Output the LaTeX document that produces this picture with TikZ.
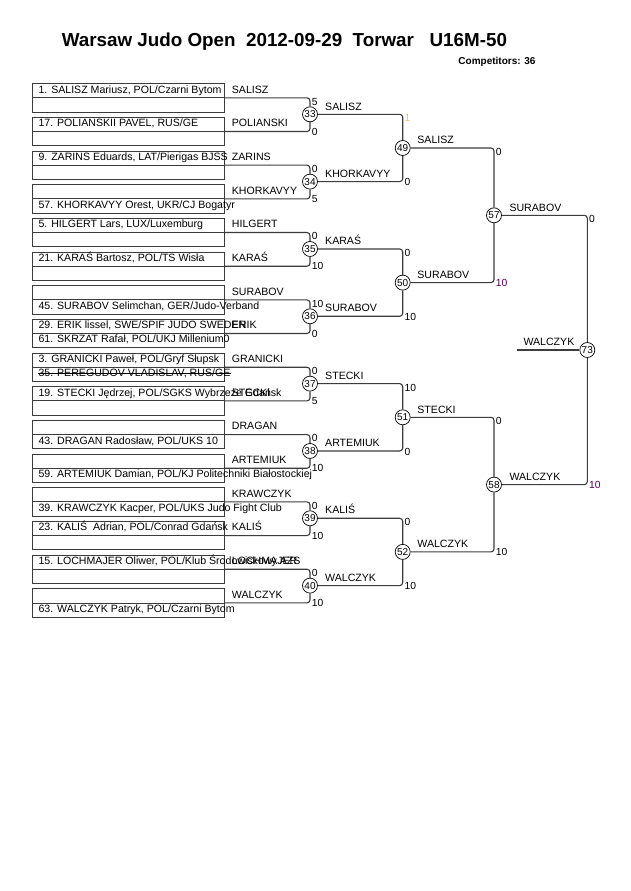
\documentclass[tikz,border=0pt]{standalone}
\usepackage{fontspec}
\setmainfont{Liberation Sans}
\usetikzlibrary{calc}
\definecolor{ln}{RGB}{60,60,60}
\definecolor{faint}{RGB}{225,200,110}
\definecolor{sc}{RGB}{80,0,80}
\begin{document}
\begin{tikzpicture}[x=1pt,y=-1pt,
  pbox/.style={draw=ln, line width=0.8pt, minimum width=192.3pt, minimum height=28.3pt, inner sep=0pt, anchor=north west},
  boxl/.style={draw=ln, line width=0.8pt},
  txt/.style={inner sep=0pt, anchor=base west, font=\fontsize{10.6}{12}\selectfont},
  mcirc/.style={circle, draw=black, line width=0.7pt, fill=white, minimum size=15pt, inner sep=0pt, font=\fontsize{10}{12}\selectfont},
  br/.style={draw=ln, line width=1.1pt, rounded corners=3pt},
  score/.style={inner sep=0pt, font=\fontsize{10.3}{12}\selectfont}]
\useasboundingbox[fill=white] (0,0) rectangle (630,891);

% title
\node[anchor=base west, inner sep=0pt, font=\bfseries\fontsize{18.8}{22}\selectfont] (title) at (61.7,46.5)
  {Warsaw Judo Open\ \ 2012-09-29\ \ Torwar\ \ \ U16M-50};
\node[anchor=base east, inner sep=0pt, font=\bfseries\fontsize{10}{12}\selectfont] (comp) at (535.7,64.3) {Competitors: 36};

% entry boxes
\foreach \i/\ta/\tb/\lab in {
 1/{1. SALISZ Mariusz, POL/Czarni Bytom}/{}/{SALISZ},
 2/{17. POLIANSKII PAVEL, RUS/GE}/{}/{POLIANSKI},
 3/{9. ZARINS Eduards, LAT/Pierigas BJSS}/{}/{ZARINS},
 4/{}/{57. KHORKAVYY Orest, UKR/CJ Bogatyr}/{KHORKAVYY},
 5/{5. HILGERT Lars, LUX/Luxemburg}/{}/{HILGERT},
 6/{21. KARAŚ Bartosz, POL/TS Wisła}/{}/{KARAŚ},
 7/{}/{45. SURABOV Selimchan, GER/Judo-Verband}/{SURABOV},
 8/{29. ERIK lissel, SWE/SPIF JUDO SWEDEN}/{61. SKRZAT Rafał, POL/UKJ Millenium0}/{ERIK},
 9/{3. GRANICKI Paweł, POL/Gryf Słupsk}/{35. PEREGUDOV VLADISLAV, RUS/GE}/{GRANICKI},
 10/{19. STECKI Jędrzej, POL/SGKS Wybrzeże Gdańsk}/{}/{STECKI},
 11/{}/{43. DRAGAN Radosław, POL/UKS 10}/{DRAGAN},
 12/{}/{59. ARTEMIUK Damian, POL/KJ Politechniki Białostockiej}/{ARTEMIUK},
 13/{}/{39. KRAWCZYK Kacper, POL/UKS Judo Fight Club}/{KRAWCZYK},
 14/{23. KALIŚ\ \ Adrian, POL/Conrad Gdańsk}/{}/{KALIŚ},
 15/{15. LOCHMAJER Oliwer, POL/Klub Środowiskowy AZS}/{}/{LOCHMAJER},
 16/{}/{63. WALCZYK Patryk, POL/Czarni Bytom}/{WALCZYK}}{
  \pgfmathsetmacro\t{83.3+33.67*(\i-1)}
  \node[pbox] (b\i) at (31.7,\t) {};
  \draw[boxl] (b\i.west) -- (b\i.east);
  \node[txt] (ta\i) at (38.3,\t+9.8) {\ta};
  \node[txt] (tb\i) at (38.3,\t+24) {\tb};
  \node[txt] (lb\i) at (231.7,\t+9.8) {\lab};
}
% struck-out entry
\draw[line width=0.6pt] ([yshift=3.4pt]tb9.base west) -- ([yshift=3.4pt]tb9.base east);

% round 1
\foreach \k/\num/\win/\sa/\sb in {1/33/SALISZ/5/0, 2/34/KHORKAVYY/0/5, 3/35/KARAŚ/0/10, 4/36/SURABOV/10/0,
   5/37/STECKI/0/5, 6/38/ARTEMIUK/0/10, 7/39/KALIŚ/0/10, 8/40/WALCZYK/0/10}{
  \pgfmathsetmacro\cy{114.3+67.33*(\k-1)}
  \pgfmathtruncatemacro\ba{2*\k-1}
  \pgfmathtruncatemacro\bb{2*\k}
  \node[mcirc] (m\num) at (310,\cy) {\num};
  \draw[br] (b\ba.east) -| (m\num.north);
  \draw[br] (b\bb.east) -| (m\num.south);
  \node[score, anchor=north west] (sa\num) at (311.7,\cy-16.83+0.3) {\sa};
  \node[score, anchor=west] (sb\num) at (311.7,\cy+16.83+0.5) {\sb};
  \node[txt] (w\num) at (325,\cy-4.3) {\win};
}

% round 2
\node[mcirc] (m49) at (402.7,148.0) {49};
\node[mcirc] (m50) at (402.7,282.6) {50};
\node[mcirc] (m51) at (402.7,417.3) {51};
\node[mcirc] (m52) at (402.7,551.9) {52};
\draw[br] (m33.east) -| (m49.north);
\draw[br] (m34.east) -| (m49.south);
\draw[br] (m35.east) -| (m50.north);
\draw[br] (m36.east) -| (m50.south);
\draw[br] (m37.east) -| (m51.north);
\draw[br] (m38.east) -| (m51.south);
\draw[br] (m39.east) -| (m52.north);
\draw[br] (m40.east) -| (m52.south);
\node[score, anchor=north west, text=faint] (sa49) at (404.4,114.6) {1};
\node[score, anchor=west] (sb49) at (404.4,182.1) {0};
\node[score, anchor=north west] (sa50) at (404.4,249.3) {0};
\node[score, anchor=west] (sb50) at (404.4,316.8) {10};
\node[score, anchor=north west] (sa51) at (404.4,383.9) {10};
\node[score, anchor=west] (sb51) at (404.4,451.5) {0};
\node[score, anchor=north west] (sa52) at (404.4,518.6) {0};
\node[score, anchor=west] (sb52) at (404.4,586.1) {10};
\node[txt] (w49) at (417.2,143.7) {SALISZ};
\node[txt] (w50) at (417.2,278.3) {SURABOV};
\node[txt] (w51) at (417.2,413.0) {STECKI};
\node[txt] (w52) at (417.2,547.6) {WALCZYK};

% round 3
\node[mcirc] (m57) at (494,215.3) {57};
\node[mcirc] (m58) at (494,484.6) {58};
\draw[br] (m49.east) -| (m57.north);
\draw[br] (m50.east) -| (m57.south);
\draw[br] (m51.east) -| (m58.north);
\draw[br] (m52.east) -| (m58.south);
\node[score, anchor=north west] (sa57) at (495.7,148.3) {0};
\node[score, anchor=west, text=sc] (sb57) at (495.7,283.1) {10};
\node[score, anchor=north west] (sa58) at (495.7,417.6) {0};
\node[score, anchor=west] (sb58) at (495.7,552.4) {10};
\node[txt] (w57) at (509.3,211.0) {SURABOV};
\node[txt] (w58) at (509.3,480.3) {WALCZYK};

% final
\node[mcirc] (m73) at (587.3,350) {73};
\draw[br] (m57.east) -| (m73.north);
\draw[br] (m58.east) -| (m73.south);
\node[score, anchor=north west] (sa73) at (589,215.6) {0};
\node[score, anchor=west, text=sc] (sb73) at (589,485.1) {10};
\coordinate (fin) at (516.7,350);
\draw[br] (fin) -- (m73.west);
\node[txt] (w73) at (523.3,345.8) {WALCZYK};
\end{tikzpicture}
\end{document}
